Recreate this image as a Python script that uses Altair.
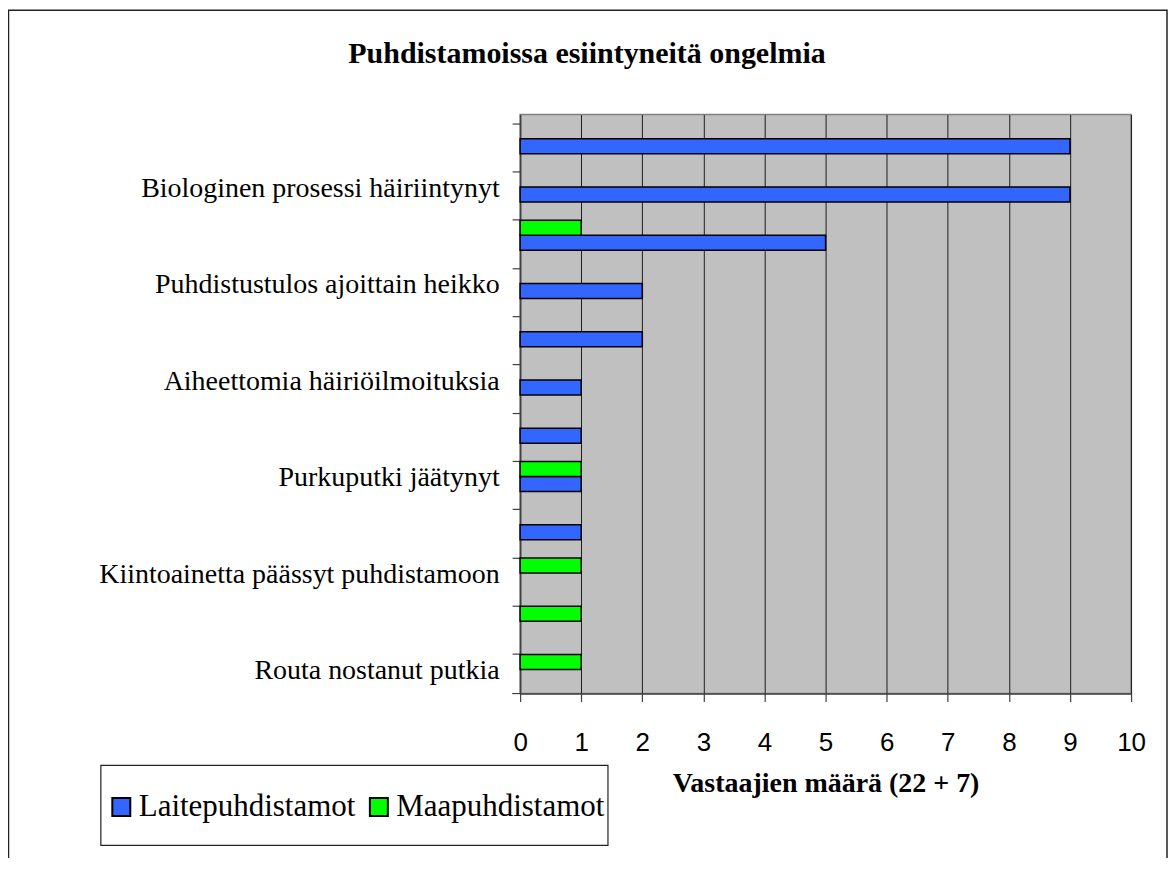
import json
import altair as alt
import pandas as pd

# ---- data ----
categories = [
    "",
    "Biologinen prosessi häiriintynyt",
    "",
    "Puhdistustulos ajoittain heikko",
    "",
    "Aiheettomia häiriöilmoituksia",
    "",
    "Purkuputki jäätynyt",
    "",
    "Kiintoainetta päässyt puhdistamoon",
    "",
    "Routa nostanut putkia",
]
laite = [9, 9, 5, 2, 2, 1, 1, 1, 1, 0, 0, 0]
maa = [0, 0, 1, 0, 0, 0, 0, 1, 0, 1, 1, 1]
series_names = ["Laitepuhdistamot", "Maapuhdistamot"]
series_colors = ["#3366FF", "#00FF00"]
x_ticks = list(range(0, 11))
chart_title = "Puhdistamoissa esiintyneitä ongelmia"
x_title = "Vastaajien määrä (22 + 7)"

rows = []
for i in range(len(categories)):
    rows.append({"idx": i, "series": series_names[0], "value": laite[i]})
    rows.append({"idx": i, "series": series_names[1], "value": maa[i]})
df = pd.DataFrame(rows)

label_expr = json.dumps(categories, ensure_ascii=False) + "[datum.value]"

W, H = 612, 580
one = pd.DataFrame({"k": [0]})

frame = alt.Chart(one).mark_rect(fill=None, stroke="#222222", strokeWidth=1.5).encode(
    x=alt.value(-512.5), x2=alt.value(648), y=alt.value(-104.5), y2=alt.value(820)
)
legend_box = alt.Chart(one).mark_rect(fill="white", stroke="#222222", strokeWidth=1.2).encode(
    x=alt.value(-420), x2=alt.value(88), y=alt.value(652), y2=alt.value(732)
)
extra_tick = alt.Chart(one).mark_rule(color="#404040", strokeWidth=1.2).encode(
    x=alt.value(-8), x2=alt.value(0), y=alt.value(H)
)
title_text = alt.Chart(one).mark_text(
    text=chart_title, font="Liberation Serif", fontSize=30, fontWeight="bold",
    color="black", align="center", baseline="alphabetic",
).encode(x=alt.value(67), y=alt.value(-52))

bars = alt.Chart(df).transform_filter("datum.value > 0").mark_bar(
    stroke="black", strokeWidth=1.5
).encode(
    x=alt.X(
        "value:Q",
        scale=alt.Scale(domain=[0, 10], nice=False, zero=True),
        axis=alt.Axis(
            values=x_ticks, format="d", title=x_title, grid=True,
            gridColor="#000000", gridWidth=1, gridOpacity=0.85,
            tickSize=8, tickColor="#404040", tickWidth=1.2,
            domainColor="#404040", domainWidth=1.5,
            labelFont="Liberation Sans", labelFontSize=26, labelColor="black",
            labelPadding=28, labelFlush=False, labelOverlap=False,
            titleFont="Liberation Serif", titleFontSize=28, titleFontWeight="bold",
            titleColor="black", titlePadding=14,
        ),
    ),
    y=alt.Y(
        "idx:O",
        scale=alt.Scale(paddingInner=0.38, paddingOuter=0.19),
        axis=alt.Axis(
            title=None, bandPosition=0, labelExpr=label_expr,
            tickSize=8, tickColor="#404040", tickWidth=1.2,
            domainColor="#404040", domainWidth=1.5,
            labelFont="Liberation Serif", labelFontSize=28, labelColor="black",
            labelPadding=13, labelLimit=800, labelOffset=2, grid=False,
            labelOverlap=False,
        ),
    ),
    yOffset=alt.YOffset(
        "series:N", sort=[series_names[1], series_names[0]],
        scale=alt.Scale(paddingInner=0, paddingOuter=0),
    ),
    color=alt.Color(
        "series:N",
        scale=alt.Scale(domain=series_names, range=series_colors),
        legend=alt.Legend(
            orient="none", legendX=-415, legendY=678, direction="horizontal",
            title=None, labelFont="Liberation Serif", labelFontSize=31,
            labelColor="black", labelLimit=600, symbolType="square", symbolSize=324,
            symbolStrokeColor="black", symbolStrokeWidth=2,
            labelOffset=2, columnPadding=8, padding=0,
        ),
    ),
)

chart = alt.layer(frame, legend_box, extra_tick, bars, title_text).properties(
    width=W, height=H,
    autosize=alt.AutoSizeParams(type="none"),
    padding={"left": 513, "top": 106, "right": 37, "bottom": 164},
    background="white",
).configure_view(
    fill="#C0C0C0", stroke="#808080", strokeWidth=1.5
)

chart.save("out.html", embed_options={"renderer": "svg", "actions": False})
